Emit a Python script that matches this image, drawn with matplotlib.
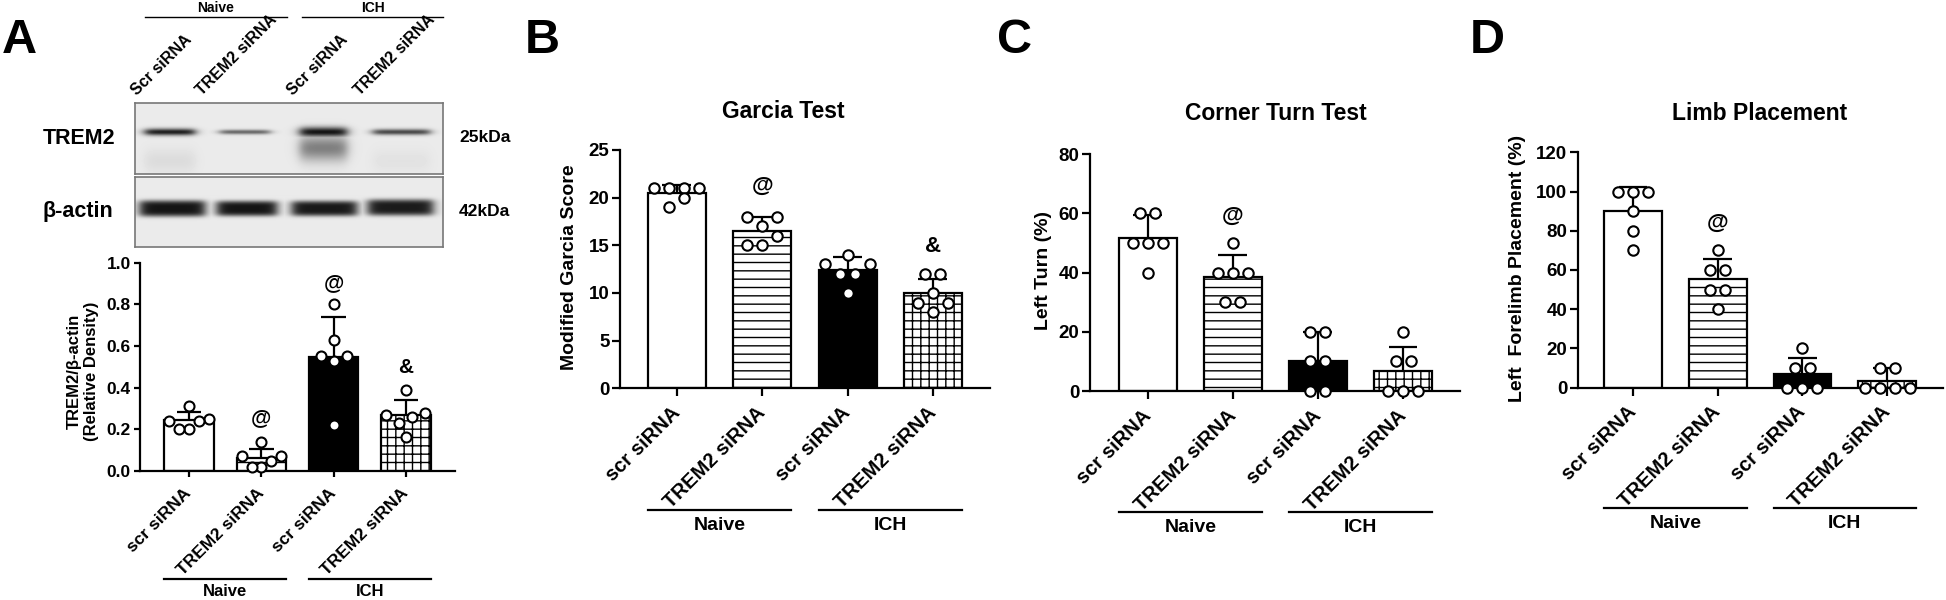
import numpy as np
import matplotlib
matplotlib.use('Agg')
import matplotlib.pyplot as plt
from matplotlib import transforms
from matplotlib.lines import Line2D

plt.rcParams['font.family'] = ['Liberation Sans', 'DejaVu Sans']
plt.rcParams['font.weight'] = 'bold'
plt.rcParams['hatch.linewidth'] = 1.0
plt.rcParams['hatch.color'] = 'black'

W, H = 1946, 600
fig = plt.figure(figsize=(W / 100, H / 100), dpi=100)

# ---------------- data ----------------
categories = ["scr siRNA", "TREM2 siRNA", "scr siRNA", "TREM2 siRNA"]
groups = ["Naive", "ICH"]
blot_lanes = ["Scr siRNA", "TREM2 siRNA", "Scr siRNA", "TREM2 siRNA"]
blot_rows = ["TREM2", "β-actin"]
blot_kda = ["25kDa", "42kDa"]

A_mean = [0.245, 0.062, 0.549, 0.268]
A_sd = [0.037, 0.043, 0.19, 0.073]
A_points = [[0.25, 0.24, 0.20, 0.31, 0.20, 0.24],
            [0.14, 0.07, 0.05, 0.02, 0.02, 0.07],
            [0.80, 0.63, 0.55, 0.55, 0.53, 0.22],
            [0.39, 0.28, 0.26, 0.23, 0.165, 0.27]]
A_marks = ["", "@", "@", "&"]
A_mark_y = [None, 0.256, 0.906, 0.496]

B_mean = [20.5, 16.5, 12.4, 10.0]
B_sd = [0.8, 1.5, 1.35, 1.5]
B_points = [[21, 21, 21, 21, 19, 20],
            [18, 18, 17, 16, 15, 15],
            [14, 13, 13, 12, 12, 10],
            [12, 12, 10, 9, 9, 8]]
B_marks = ["", "@", "", "&"]
B_mark_y = [None, 21.15, None, 14.9]

C_mean = [51.7, 38.5, 10.1, 6.8]
C_sd = [7.8, 7.5, 9.9, 8.2]
C_points = [[60, 60, 50, 50, 50, 40],
            [50, 40, 40, 40, 30, 30],
            [20, 20, 10, 10, 0, 0],
            [20, 10, 10, 0, 0, 0]]
C_marks = ["", "@", "", ""]
C_mark_y = [None, 59.0, None, None]

D_mean = [90.1, 55.4, 7.0, 3.6]
D_sd = [12.0, 10.1, 8.0, 6.3]
D_points = [[100, 100, 100, 90, 80, 70],
            [70, 60, 60, 50, 50, 40],
            [20, 10, 10, 0, 0, 0],
            [10, 10, 0, 0, 0, 0]]
D_marks = ["", "@", "", ""]
D_mark_y = [None, 84.0, None, None]

bar_fills = ["white", "white", "black", "white"]
bar_hatches = [None, "--", None, "++"]


def px_axes(l, t, r, b):
    return fig.add_axes([l / W, 1 - b / H, (r - l) / W, (b - t) / H])


def swarm_offsets(ax, vals, slot_px, thr_px, max_half_px):
    vals = np.asarray(vals, float)
    p0 = ax.transData.transform((0, 0))
    p1 = ax.transData.transform((1, 1))
    px_x = p1[0] - p0[0]
    px_y = p1[1] - p0[1]
    order = np.argsort(vals, kind="stable")
    rows = []
    for i in order:
        if rows and (vals[i] - vals[rows[-1][0]]) * px_y < thr_px:
            rows[-1].append(i)
        else:
            rows.append([i])
    offs = np.zeros(len(vals))
    for row in rows:
        n = len(row)
        step = slot_px if n == 1 else min(slot_px, 2 * max_half_px / (n - 1))
        slots = sorted(((k - (n - 1) / 2) * step for k in range(n)),
                       key=lambda v: (abs(v), v))
        for i, s in zip(row, slots):
            offs[i] = s / px_x
    return offs


def panel(box, means, sds, points, marks, mark_y, ylim, yticks, ytick_fmt,
          ylabel, ylabel_xy, title, title_xy, group_y, group_label_y,
          fs_tick, fs_xtick, fs_label, fs_group, fs_mark, slot_px, ms,
          tick_len, xlim):
    ax = px_axes(*box)
    x = np.arange(len(categories))
    bw = 0.68
    ax.set_xlim(*xlim)
    ax.set_ylim(*ylim)
    for i in range(len(categories)):
        ax.bar(x[i], means[i], width=bw, color=bar_fills[i], edgecolor="black",
               linewidth=1.6, hatch=bar_hatches[i], zorder=2)
    cap = 0.17
    tops = np.array(means) + np.array(sds)
    ax.vlines(x, means, tops, color="black", lw=1.6, zorder=3)
    ax.hlines(tops, x - cap, x + cap, color="black", lw=1.6, zorder=3)
    bbox = ax.get_window_extent()
    half_bar_px = bw / (xlim[1] - xlim[0]) * bbox.width / 2
    for i in range(len(categories)):
        offs = swarm_offsets(ax, points[i], slot_px, 12, 0.8 * half_bar_px)
        ax.plot(x[i] + offs, points[i], ls="none", marker="o", ms=ms,
                mfc="white", mec="black", mew=1.5, zorder=5, clip_on=False)
        if marks[i]:
            ax.text(x[i], mark_y[i], marks[i], ha="center", va="center",
                    fontsize=fs_mark, fontweight="bold", zorder=6)
    for s in ["top", "right"]:
        ax.spines[s].set_visible(False)
    for s in ["left", "bottom"]:
        ax.spines[s].set_linewidth(1.6)
    ax.set_yticks(yticks)
    ax.set_yticklabels([ytick_fmt.format(v) for v in yticks], fontsize=fs_tick,
                       fontweight="bold")
    ax.tick_params(axis="both", width=1.6, length=tick_len)
    ax.tick_params(axis="y", pad=2)
    ax.set_xticks(x)
    ax.set_xticklabels(categories, rotation=45, ha="right", va="center",
                       rotation_mode="anchor", fontsize=fs_xtick,
                       fontweight="bold")
    ax.tick_params(axis="x", pad=10)
    fig.text(ylabel_xy[0] / W, 1 - ylabel_xy[1] / H, ylabel, rotation=90,
             ha="center", va="center", fontsize=fs_label, fontweight="bold",
             multialignment="center")
    if title:
        fig.text(title_xy[0] / W, 1 - title_xy[1] / H, title, ha="center",
                 va="center", fontsize=16.5, fontweight="bold")
    tr = transforms.blended_transform_factory(ax.transData, fig.transFigure)
    for g, name in enumerate(groups):
        x0 = x[2 * g] - bw / 2
        x1 = x[2 * g + 1] + bw / 2
        fig.add_artist(Line2D([x0, x1], [1 - group_y / H] * 2, transform=tr,
                              color="black", lw=1.6))
        fig.text((x0 + x1) / 2, 1 - group_label_y / H, name, transform=tr,
                 ha="center", va="center", fontsize=fs_group,
                 fontweight="bold")
    return ax


# ---------------- Panel A bar chart ----------------
panel((140, 262.7, 455, 471), A_mean, A_sd, A_points, A_marks, A_mark_y,
      (0, 1.0), [0.0, 0.2, 0.4, 0.6, 0.8, 1.0], "{:.1f}",
      "TREM2/β-actin\n(Relative Density)", (83, 371), None, None,
      579, 592, 12.5, 12.5, 12, 12, 15, 13, 7.2, 4.5, (-0.678, 3.678))

# ---------------- Panels B-D ----------------
panel((620, 150, 990, 388.3), B_mean, B_sd, B_points, B_marks, B_mark_y,
      (0, 25), [0, 5, 10, 15, 20, 25], "{:d}", "Modified Garcia Score",
      (570, 267), "Garcia Test", (783, 112), 510, 525,
      13.5, 14.5, 14, 14, 16, 15, 7.5, 5.5, (-0.668, 3.67))

panel((1090, 154.3, 1460, 391), C_mean, C_sd, C_points, C_marks, C_mark_y,
      (0, 80), [0, 20, 40, 60, 80], "{:d}", "Left Turn (%)",
      (1043, 270), "Corner Turn Test", (1276, 114), 512, 528,
      13.5, 14.5, 14, 14, 16, 15, 7.5, 5.5, (-0.68, 3.67))

panel((1577.7, 152.3, 1943, 387.7), D_mean, D_sd, D_points, D_marks, D_mark_y,
      (0, 120), [0, 20, 40, 60, 80, 100, 120], "{:d}",
      "Left  Forelimb Placement (%)", (1518, 268), "Limb Placement",
      (1760, 113), 508, 523,
      13.5, 14.5, 14, 14, 16, 15, 7.5, 5.5, (-0.653, 3.66))

# ---------------- Western blot (panel A top) ----------------
def blot_image(w, h, bands, bg=0.92):
    X, Y = np.meshgrid(np.arange(w) + 0.5, np.arange(h) + 0.5)
    dark = np.zeros((h, w))
    for (x0, x1, yc, hh, st, p) in bands:
        hx = 1 / (1 + np.exp(-(X - x0) / 3.0)) * 1 / (1 + np.exp((X - x1) / 3.0))
        vy = np.exp(-np.abs((Y - yc) / hh) ** p)
        dark = np.maximum(dark, st * hx * vy)
    return bg - dark * (bg - 0.08)

trem2_bands = [(10, 60, 29, 3.5, 0.95, 2), (85, 135, 29, 2.4, 0.6, 2),
               (165, 212, 29, 5.0, 1.0, 2), (165, 212, 45, 13.0, 0.5, 2),
               (238, 295, 29, 3.0, 0.75, 2), (10, 60, 58, 12.0, 0.07, 2),
               (238, 295, 58, 12.0, 0.04, 2)]
actin_bands = [(5, 70, 32, 8.0, 1.0, 4), (82, 142, 32, 7.5, 1.0, 4),
               (157, 222, 32, 7.5, 0.98, 4), (233, 298, 31, 8.0, 0.97, 4)]

for (top, bot, bands) in [(103, 174, trem2_bands), (177, 247, actin_bands)]:
    bax = px_axes(135, top, 443, bot)
    img = blot_image(308, int(bot - top), bands)
    bax.imshow(img, cmap="gray", vmin=0, vmax=1, aspect="auto",
               interpolation="bilinear")
    bax.set_xticks([])
    bax.set_yticks([])
    for s in bax.spines.values():
        s.set_edgecolor("#777777")
        s.set_linewidth(1.2)

fig.text(43 / W, 1 - 138 / H, blot_rows[0], ha="left", va="center",
         fontsize=15.5, fontweight="bold")
fig.text(43 / W, 1 - 212 / H, blot_rows[1], ha="left", va="center",
         fontsize=15.5, fontweight="bold")
fig.text(459 / W, 1 - 138 / H, blot_kda[0], ha="left", va="center",
         fontsize=12.5, fontweight="bold")
fig.text(459 / W, 1 - 212 / H, blot_kda[1], ha="left", va="center",
         fontsize=12.5, fontweight="bold")

lane_x = [137, 202, 293, 360]
for lx, name in zip(lane_x, blot_lanes):
    fig.text(lx / W, 1 - 96 / H, name, rotation=45, rotation_mode="anchor",
             ha="left", va="baseline", fontsize=11.5, fontweight="bold")

for (x0, x1, name) in [(145, 287, groups[0]), (302, 443, groups[1])]:
    fig.add_artist(Line2D([x0 / W, x1 / W], [1 - 17 / H] * 2,
                          transform=fig.transFigure, color="black", lw=1.0))
    fig.text((x0 + x1) / 2 / W, 1 - 8 / H, name, ha="center", va="center",
             fontsize=10, fontweight="bold")

# ---------------- Panel letters ----------------
for lx, letter in [(2, "A"), (525, "B"), (997, "C"), (1470, "D")]:
    fig.text(lx / W, 1 - 53 / H, letter, ha="left", va="baseline",
             fontsize=35, fontweight="bold")

fig.savefig("out.png", dpi=100)
